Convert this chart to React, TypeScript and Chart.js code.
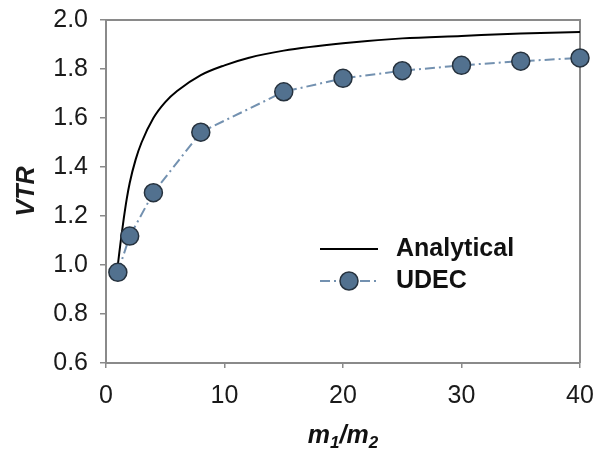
import React, { useEffect, useRef } from "react";
import { Chart, registerables } from "chart.js";

Chart.register(...registerables);

const analyticalX = [1, 1.25, 1.5, 1.75, 2, 2.5, 3, 4, 5, 6, 8, 10, 12, 15, 20, 25, 30, 35, 40];
const analyticalY = [1.0, 1.1, 1.19, 1.27, 1.335, 1.43, 1.5, 1.6, 1.665, 1.71, 1.775, 1.815, 1.845, 1.875, 1.905, 1.925, 1.935, 1.945, 1.951];

const udecX = [1, 2, 4, 8, 15, 20, 25, 30, 35, 40];
const udecY = [0.97, 1.118, 1.295, 1.542, 1.707, 1.762, 1.793, 1.815, 1.832, 1.845];

const xTicks = [0, 10, 20, 30, 40];
const yTicks = [0.6, 0.8, 1.0, 1.2, 1.4, 1.6, 1.8, 2.0];

const FONT = "'Liberation Sans', Arial, sans-serif";
const AXIS_GRAY = "#8a8a8a";
const MARKER_FILL = "#52718f";
const MARKER_EDGE = "#26323e";
const UDEC_LINE = "#7391b0";
const DASH = [10, 4, 2, 4];

const decorPlugin = {
  id: "decor",
  beforeDatasetsDraw(chart: any) {
    const { ctx, chartArea } = chart;
    ctx.save();
    ctx.strokeStyle = AXIS_GRAY;
    ctx.lineWidth = 2;
    ctx.beginPath();
    ctx.moveTo(chartArea.left, chartArea.top);
    ctx.lineTo(chartArea.right, chartArea.top);
    ctx.lineTo(chartArea.right, chartArea.bottom);
    ctx.stroke();
    ctx.restore();
  },
  afterDraw(chart: any) {
    const { ctx, chartArea } = chart;
    ctx.save();
    // legend
    const lx0 = 320, lx1 = 378, ly1 = 249, ly2 = 281, tx = 396;
    ctx.strokeStyle = "#000";
    ctx.lineWidth = 2;
    ctx.beginPath();
    ctx.moveTo(lx0, ly1);
    ctx.lineTo(lx1, ly1);
    ctx.stroke();
    ctx.strokeStyle = UDEC_LINE;
    ctx.setLineDash(DASH);
    ctx.beginPath();
    ctx.moveTo(lx0, ly2);
    ctx.lineTo(lx1, ly2);
    ctx.stroke();
    ctx.setLineDash([]);
    ctx.fillStyle = MARKER_FILL;
    ctx.strokeStyle = MARKER_EDGE;
    ctx.lineWidth = 1.5;
    ctx.beginPath();
    ctx.arc((lx0 + lx1) / 2, ly2, 9, 0, Math.PI * 2);
    ctx.fill();
    ctx.stroke();
    ctx.fillStyle = "#111";
    ctx.font = `bold 25px ${FONT}`;
    ctx.textBaseline = "middle";
    ctx.textAlign = "left";
    ctx.fillText("Analytical", tx, ly1);
    ctx.fillText("UDEC", tx, ly2);

    // x-axis title with subscripts
    const big = `italic bold 25px ${FONT}`;
    const small = `italic bold 17px ${FONT}`;
    const parts: [string, string, number][] = [
      ["m", big, 0],
      ["1", small, 5],
      ["/", big, 0],
      ["m", big, 0],
      ["2", small, 5],
    ];
    let total = 0;
    for (const [t, f] of parts) {
      ctx.font = f;
      total += ctx.measureText(t).width;
    }
    let x = (chartArea.left + chartArea.right) / 2 - total / 2;
    const base = 443;
    ctx.textBaseline = "alphabetic";
    for (const [t, f, dy] of parts) {
      ctx.font = f;
      ctx.fillText(t, x, base + dy);
      x += ctx.measureText(t).width;
    }
    ctx.restore();
  },
};

export default function App() {
  const ref = useRef<HTMLCanvasElement | null>(null);
  useEffect(() => {
    document.body.style.margin = "0";
    const canvas = ref.current;
    if (!canvas) return;
    const chart = new Chart(canvas, {
      type: "line",
      data: {
        datasets: [
          {
            label: "UDEC",
            data: udecX.map((x, i) => ({ x, y: udecY[i] })),
            borderColor: UDEC_LINE,
            borderWidth: 2,
            borderDash: DASH,
            pointRadius: 9,
            pointHoverRadius: 9,
            pointBackgroundColor: MARKER_FILL,
            pointBorderColor: MARKER_EDGE,
            pointBorderWidth: 1.5,
            tension: 0,
            clip: false as any,
            order: 1,
          },
          {
            label: "Analytical",
            data: analyticalX.map((x, i) => ({ x, y: analyticalY[i] })),
            borderColor: "#000",
            borderWidth: 2,
            pointRadius: 0,
            cubicInterpolationMode: "monotone",
            clip: false as any,
            order: 2,
          },
        ],
      },
      options: {
        responsive: false,
        animation: false,
        layout: { padding: { top: 20, right: 15, left: 0, bottom: 0 } },
        plugins: { legend: { display: false }, tooltip: { enabled: false } },
        scales: {
          x: {
            type: "linear",
            min: 0,
            max: 40,
            afterBuildTicks: (s: any) => {
              s.ticks = xTicks.map((v) => ({ value: v }));
            },
            afterFit: (s: any) => {
              s.height = 96;
              s.paddingLeft = 0;
              s.paddingRight = 0;
            },
            border: { color: AXIS_GRAY, width: 2 },
            grid: { drawOnChartArea: false, drawTicks: true, tickLength: 5, color: AXIS_GRAY, lineWidth: 1.5 },
            ticks: {
              padding: 13,
              color: "#1a1a1a",
              font: { family: FONT, size: 25 },
              maxRotation: 0,
              callback: (v: any) => String(v),
            },
          },
          y: {
            type: "linear",
            min: 0.6,
            max: 2.0,
            afterBuildTicks: (s: any) => {
              s.ticks = yTicks.map((v) => ({ value: v }));
            },
            afterFit: (s: any) => {
              s.width = 106;
              s.paddingTop = 0;
              s.paddingBottom = 0;
            },
            border: { color: AXIS_GRAY, width: 2 },
            grid: { drawOnChartArea: false, drawTicks: true, tickLength: 6, color: AXIS_GRAY, lineWidth: 1.5 },
            ticks: {
              padding: 12,
              color: "#1a1a1a",
              font: { family: FONT, size: 25 },
              callback: (v: any) => Number(v).toFixed(1),
            },
            title: {
              display: true,
              text: "VTR",
              color: "#1a1a1a",
              font: { family: FONT, size: 25, weight: "bold", style: "italic" },
              padding: { top: 12, bottom: 0 },
            },
          },
        },
      },
      plugins: [decorPlugin],
    });
    return () => chart.destroy();
  }, []);
  return (
    <div style={{ width: 595, height: 459, background: "#fff" }}>
      <canvas ref={ref} width={595} height={459} />
    </div>
  );
}
